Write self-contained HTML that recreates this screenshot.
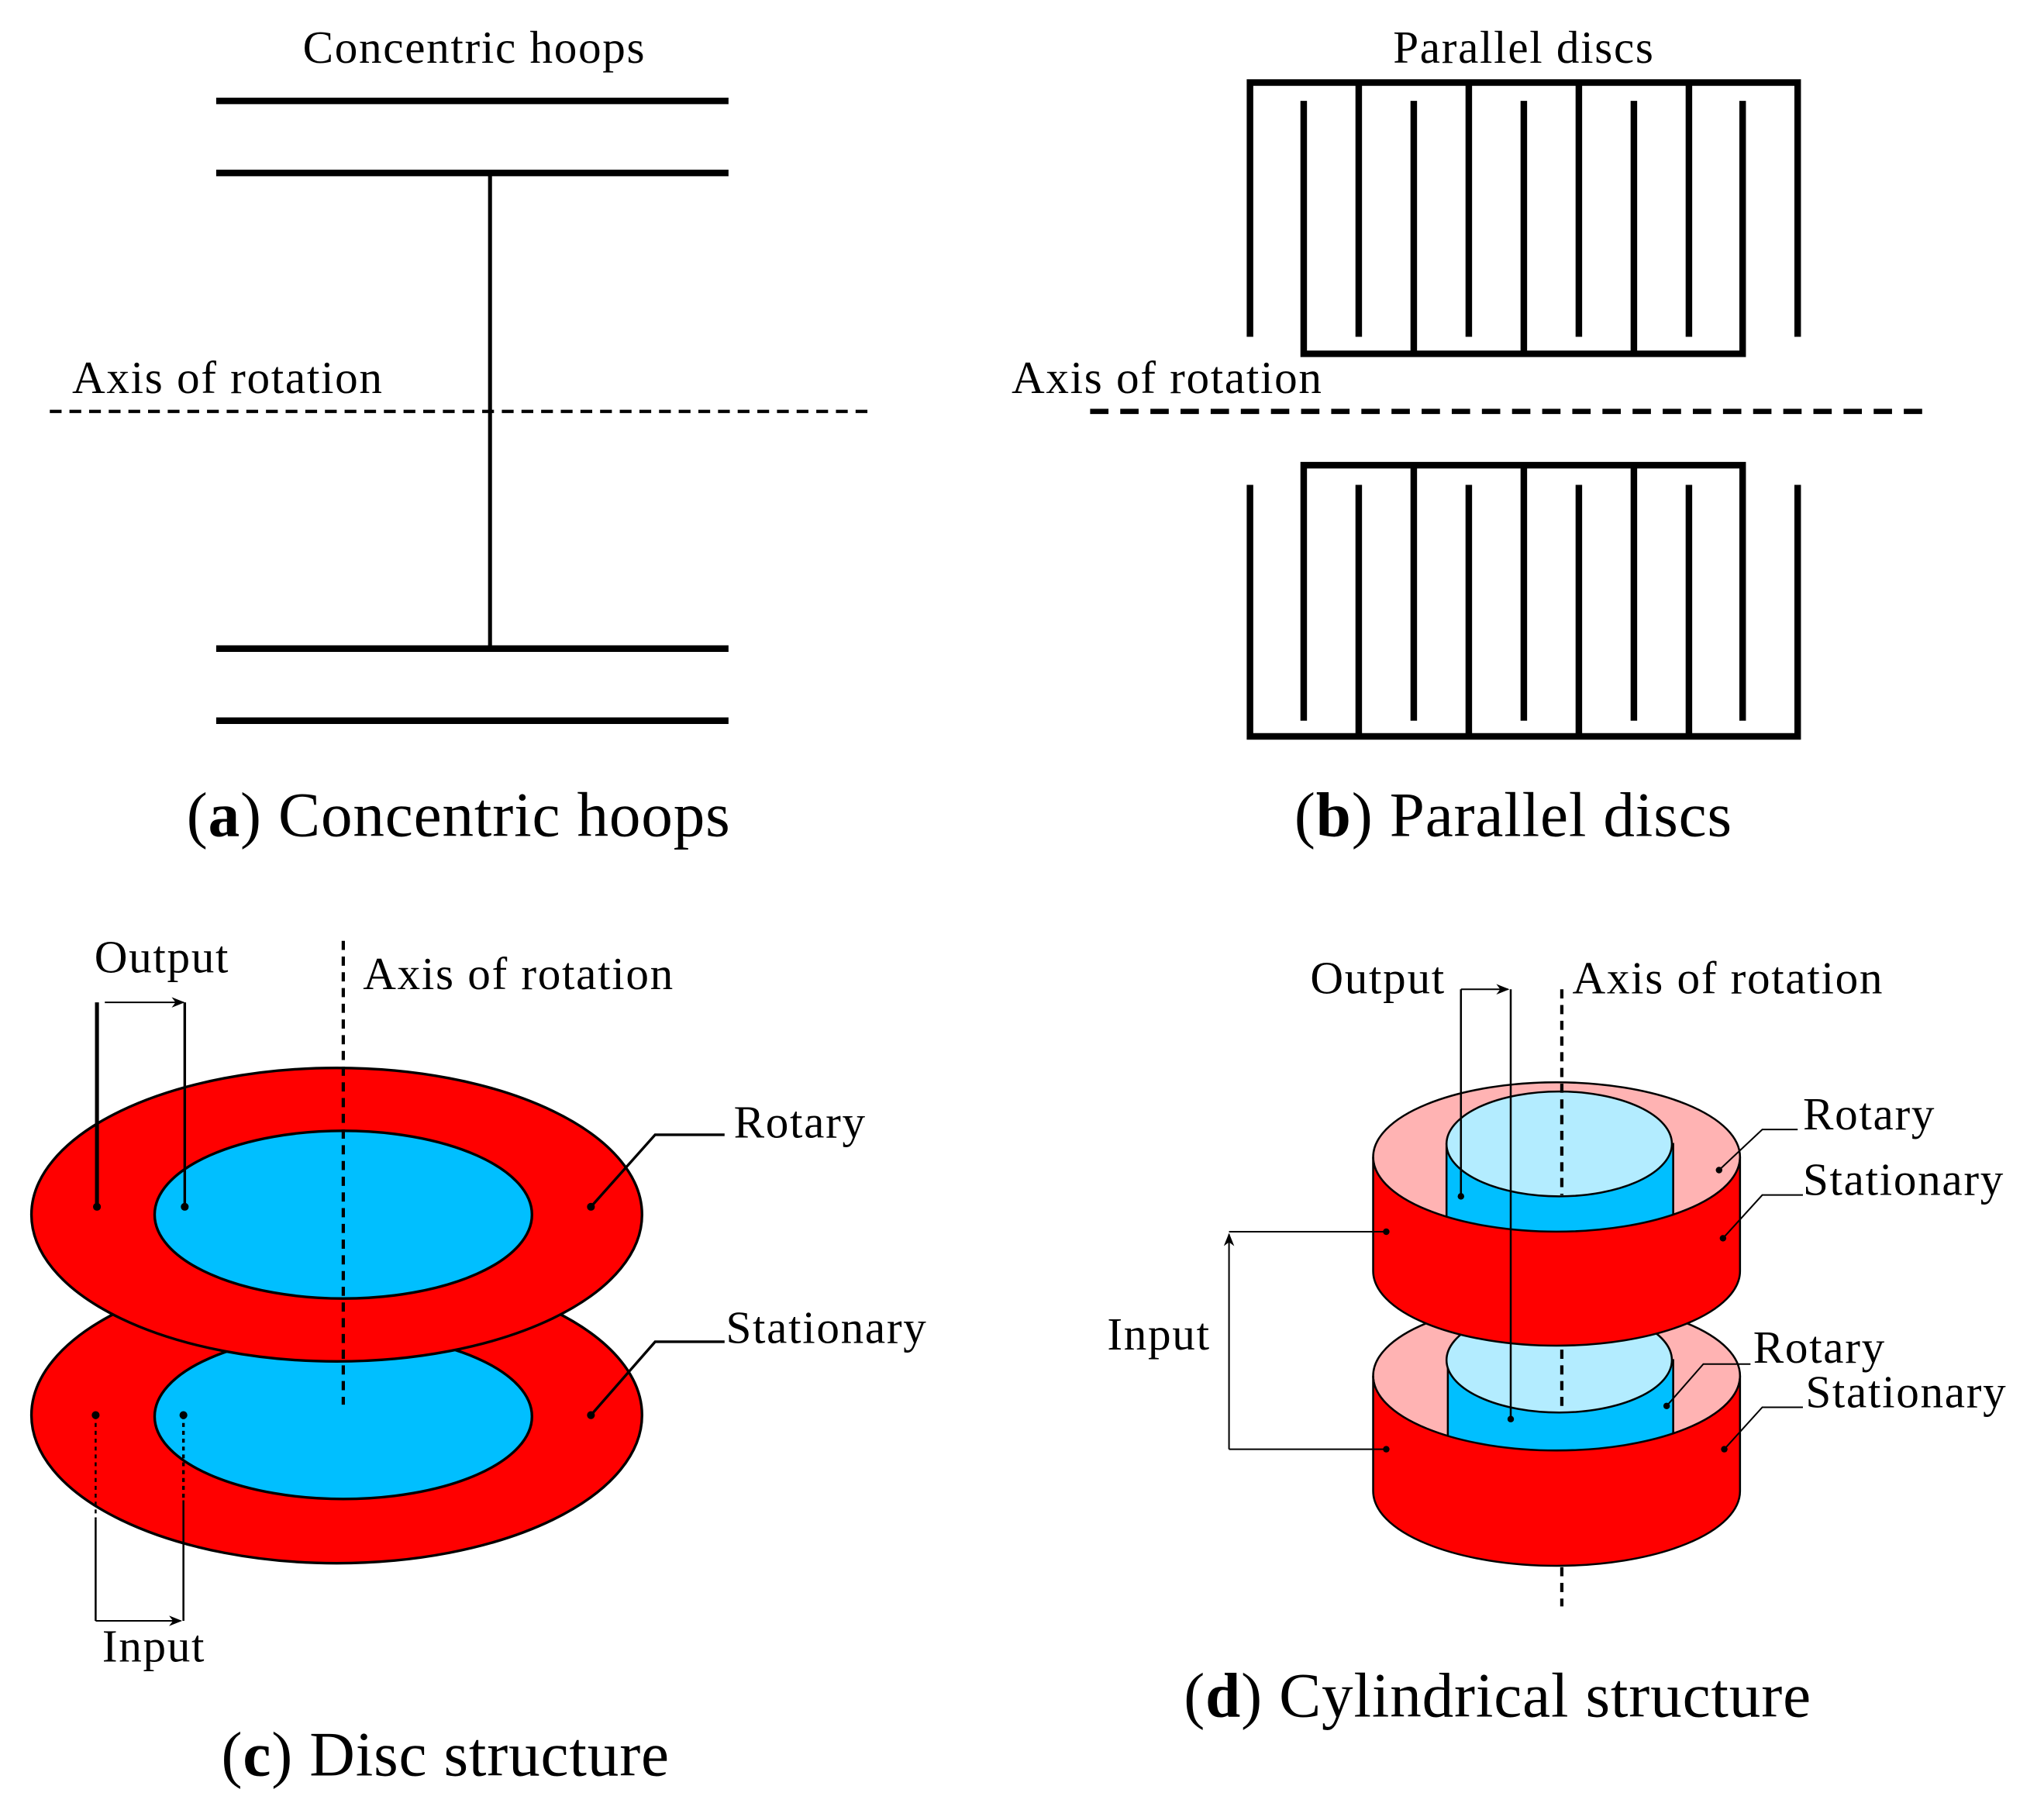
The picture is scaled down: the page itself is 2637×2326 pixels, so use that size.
<!DOCTYPE html>
<html><head><meta charset="utf-8"><style>
html,body{margin:0;padding:0;background:#fff;}
svg{display:block;}
text{font-family:"Liberation Serif",serif;fill:#000;}
.l{font-size:35px;letter-spacing:1px;}
.c{font-size:48px;letter-spacing:0.5px;}
</style></head><body>
<svg width="2637" height="2326" viewBox="0 0 1560 1376" xmlns="http://www.w3.org/2000/svg">
<defs>
<marker id="ar" markerWidth="10" markerHeight="8" refX="9" refY="4" orient="auto" markerUnits="userSpaceOnUse">
<path d="M0,0 L10,4 L0,8 L3,4 Z" fill="#000"/></marker>
</defs>
<!-- Panel a -->
<g stroke="#000" stroke-width="5">
<line x1="165" y1="77" x2="556" y2="77"/><line x1="165" y1="132" x2="556" y2="132"/>
<line x1="165" y1="495" x2="556" y2="495"/><line x1="165" y1="550" x2="556" y2="550"/>
</g>
<line x1="374" y1="132" x2="374" y2="495" stroke="#000" stroke-width="3"/>
<line x1="38" y1="314" x2="668" y2="314" stroke="#000" stroke-width="2.5" stroke-dasharray="9,6"/>
<text x="362" y="48" class="l" text-anchor="middle">Concentric hoops</text>
<text x="55" y="300" class="l">Axis of rotation</text>
<text x="350" y="638" class="c" text-anchor="middle">(<tspan font-weight="bold">a</tspan>) Concentric hoops</text>
<!-- Panel b -->
<g stroke="#000" stroke-width="5" fill="none">
<path d="M954,257 V63 H1372 V257"/>
<line x1="1037" y1="63" x2="1037" y2="257"/><line x1="1121" y1="63" x2="1121" y2="257"/>
<line x1="1205" y1="63" x2="1205" y2="257"/><line x1="1289" y1="63" x2="1289" y2="257"/>
<path d="M995,77 V270 H1330 V77"/>
<line x1="1079" y1="77" x2="1079" y2="270"/><line x1="1163" y1="77" x2="1163" y2="270"/><line x1="1247" y1="77" x2="1247" y2="270"/>
<path d="M954,370 V562 H1372 V370"/>
<line x1="1037" y1="370" x2="1037" y2="562"/><line x1="1121" y1="370" x2="1121" y2="562"/>
<line x1="1205" y1="370" x2="1205" y2="562"/><line x1="1289" y1="370" x2="1289" y2="562"/>
<path d="M995,550 V355 H1330 V550"/>
<line x1="1079" y1="355" x2="1079" y2="550"/><line x1="1163" y1="355" x2="1163" y2="550"/><line x1="1247" y1="355" x2="1247" y2="550"/>
</g>
<line x1="832" y1="314" x2="1470" y2="314" stroke="#000" stroke-width="4" stroke-dasharray="14,9"/>
<text x="1163" y="48" class="l" text-anchor="middle">Parallel discs</text>
<text x="772" y="300" class="l">Axis of rotation</text>
<text x="1155" y="638" class="c" text-anchor="middle">(<tspan font-weight="bold">b</tspan>) Parallel discs</text>
<!-- Panel c -->
<g stroke="#000" stroke-width="2">
<ellipse cx="257" cy="1080" rx="233" ry="113" fill="#ff0000"/>
<ellipse cx="262" cy="1081" rx="144" ry="63" fill="#00bfff"/>
<ellipse cx="257" cy="927" rx="233" ry="112" fill="#ff0000"/>
<ellipse cx="262" cy="927" rx="144" ry="64" fill="#00bfff"/>
</g>
<line x1="262" y1="718" x2="262" y2="1072" stroke="#000" stroke-width="2.5" stroke-dasharray="7,5"/>
<line x1="74" y1="765" x2="74" y2="921" stroke="#000" stroke-width="3"/>
<line x1="141" y1="765" x2="141" y2="921" stroke="#000" stroke-width="2"/>
<line x1="80" y1="765" x2="140" y2="765" stroke="#000" stroke-width="1.2" marker-end="url(#ar)"/>
<circle cx="74" cy="921" r="3"/><circle cx="141" cy="921" r="3"/>
<line x1="73" y1="1080" x2="73" y2="1160" stroke="#000" stroke-width="1.5" stroke-dasharray="3,3"/>
<line x1="73" y1="1160" x2="73" y2="1237" stroke="#000" stroke-width="1.5"/>
<line x1="140" y1="1080" x2="140" y2="1145" stroke="#000" stroke-width="2" stroke-dasharray="3,3"/>
<line x1="140" y1="1145" x2="140" y2="1237" stroke="#000" stroke-width="1.5"/>
<line x1="73" y1="1237" x2="138" y2="1237" stroke="#000" stroke-width="1.2" marker-end="url(#ar)"/>
<circle cx="73" cy="1080" r="3"/><circle cx="140" cy="1080" r="3"/>
<polyline points="451,921 500,866 553,866" fill="none" stroke="#000" stroke-width="2"/><circle cx="451" cy="921" r="3"/>
<polyline points="451,1080 500,1024 553,1024" fill="none" stroke="#000" stroke-width="2"/><circle cx="451" cy="1080" r="3"/>
<text x="72" y="742" class="l">Output</text>
<text x="277" y="755" class="l">Axis of rotation</text>
<text x="560" y="868" class="l">Rotary</text>
<text x="554" y="1025" class="l">Stationary</text>
<text x="78" y="1268" class="l">Input</text>
<text x="340" y="1355" class="c" text-anchor="middle">(<tspan font-weight="bold">c</tspan>) Disc structure</text>
<!-- Panel d lower -->
<g stroke="#000" stroke-width="1.5">
<ellipse cx="1188" cy="1050" rx="140" ry="57" fill="#ffb3b3"/>
<rect x="1105" y="1038" width="172" height="72" fill="#00bfff"/>
<ellipse cx="1190" cy="1038" rx="86" ry="40" fill="#b3ecff"/>
<path d="M1048,1050 A140,57 0 0 0 1328,1050 L1328,1138 A140,57 0 0 1 1048,1138 Z" fill="#ff0000"/>
</g>
<line x1="1192" y1="1030" x2="1192" y2="1076" stroke="#000" stroke-width="2.5" stroke-dasharray="7,5"/>
<!-- Panel d upper -->
<g stroke="#000" stroke-width="1.5">
<ellipse cx="1188" cy="883" rx="140" ry="57" fill="#ffb3b3"/>
<rect x="1104" y="873" width="173" height="70" fill="#00bfff"/>
<ellipse cx="1190" cy="873" rx="86" ry="40" fill="#b3ecff"/>
<path d="M1048,883 A140,57 0 0 0 1328,883 L1328,970 A140,57 0 0 1 1048,970 Z" fill="#ff0000"/>
</g>
<line x1="1192" y1="755" x2="1192" y2="912" stroke="#000" stroke-width="2.5" stroke-dasharray="7,5"/>
<line x1="1192" y1="1196" x2="1192" y2="1226" stroke="#000" stroke-width="2.5" stroke-dasharray="7,5"/>
<line x1="1115" y1="755" x2="1115" y2="913" stroke="#000" stroke-width="1.5"/>
<line x1="1115" y1="755" x2="1151" y2="755" stroke="#000" stroke-width="1.2" marker-end="url(#ar)"/>
<line x1="1153" y1="755" x2="1153" y2="1083" stroke="#000" stroke-width="1.5"/>
<circle cx="1115" cy="913" r="2.5"/><circle cx="1153" cy="1083" r="2.5"/>
<polyline points="1058,940 938,940" fill="none" stroke="#000" stroke-width="1.2"/>
<line x1="938" y1="1106" x2="938" y2="942" stroke="#000" stroke-width="1.2" marker-end="url(#ar)"/>
<polyline points="938,1106 1058,1106" fill="none" stroke="#000" stroke-width="1.2"/>
<circle cx="1058" cy="940" r="2.5"/><circle cx="1058" cy="1106" r="2.5"/>
<polyline points="1312,893 1345,862 1372,862" fill="none" stroke="#000" stroke-width="1.2"/><circle cx="1312" cy="893" r="2.5"/>
<polyline points="1315,945 1345,912 1376,912" fill="none" stroke="#000" stroke-width="1.2"/><circle cx="1315" cy="945" r="2.5"/>
<polyline points="1272,1073 1300,1041 1336,1041" fill="none" stroke="#000" stroke-width="1.2"/><circle cx="1272" cy="1073" r="2.5"/>
<polyline points="1316,1106 1345,1074 1376,1074" fill="none" stroke="#000" stroke-width="1.2"/><circle cx="1316" cy="1106" r="2.5"/>
<text x="1000" y="758" class="l">Output</text>
<text x="1200" y="758" class="l">Axis of rotation</text>
<text x="1376" y="862" class="l">Rotary</text>
<text x="1376" y="912" class="l">Stationary</text>
<text x="1338" y="1040" class="l">Rotary</text>
<text x="1378" y="1074" class="l">Stationary</text>
<text x="845" y="1030" class="l">Input</text>
<text x="1143" y="1310" class="c" text-anchor="middle">(<tspan font-weight="bold">d</tspan>) Cylindrical structure</text>
</svg>
</body></html>
